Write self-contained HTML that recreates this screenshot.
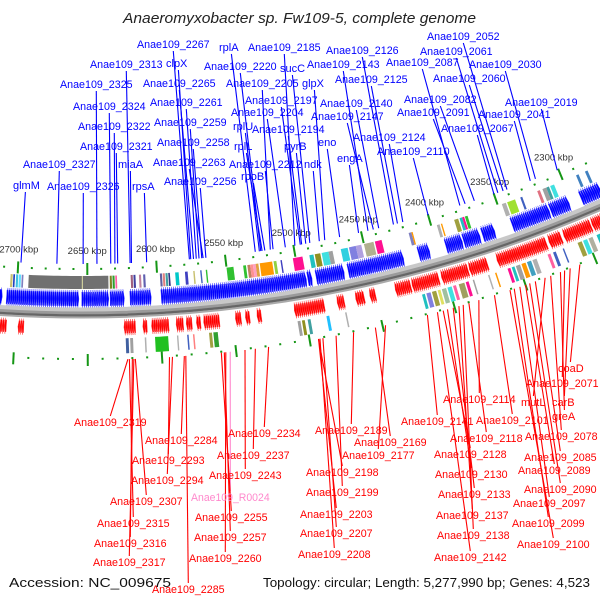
<!DOCTYPE html>
<html><head><meta charset="utf-8">
<style>
html,body{margin:0;padding:0;background:#fff;}
svg{display:block;font-family:"Liberation Sans",sans-serif;}
</style></head>
<body>
<svg id="map" width="600" height="600" viewBox="0 0 600 600" xmlns="http://www.w3.org/2000/svg">
<rect width="600" height="600" fill="#fff"/>
<text x="123" y="23" font-size="15" font-style="italic" fill="#222" textLength="353" lengthAdjust="spacingAndGlyphs">Anaeromyxobacter sp. Fw109-5, complete genome</text>
<g id="cog"></g><g id="genes"></g><g id="backbone"></g><g id="ticks"></g><g id="lines"></g><g id="labels"></g>
<text x="9" y="587" font-size="13" fill="#111" textLength="162" lengthAdjust="spacingAndGlyphs">Accession: NC_009675</text>
<text x="263" y="587" font-size="13" fill="#111" textLength="327" lengthAdjust="spacingAndGlyphs">Topology: circular; Length: 5,277,990 bp; Genes: 4,523</text>
</svg>
<script>
// ---- data ----
const fwdBlocks=[[2712,2710],[2707,2656],[2654,2635],[2634,2624],[2620,2605],[2598,2495],[2494,2491],[2488,2468],[2465,2425],[2414,2406],[2394,2382],[2381,2369],[2367,2358],[2345,2317],[2316,2302],[2293,2287],[2287,2278]];
const revBlocks=[[2712,2706],[2698,2694],[2625,2617],[2612,2609],[2606,2594],[2589,2584],[2582,2578],[2575,2572],[2570,2559],[2548,2544],[2541,2538],[2533,2530],[2507,2486],[2477,2472],[2464,2458],[2454,2450],[2436,2425],[2424,2405],[2403,2384],[2383,2370],[2363,2327],[2325,2316],[2314,2294],[2293,2278]];
const fwdCog=[[2705,1.5,"#c8c070"],[2703,1.2,"#2040c0"],[2701,1.5,"#40c0e0"],[2699,1.5,"#60e0ff"],[2697,1.2,"#8080c0"],
[2692,57,"#707070"],[2654,0.8,"#d8d8a0"],[2634,1.5,"#808020"],[2632,1.5,"#30a030"],[2630,1.2,"#ff60a0"],
[2619,1.5,"#a06080"],[2617,1.5,"#4040a0"],[2613,1.5,"#c080a0"],[2610,1.5,"#6060b0"],
[2598,1.5,"#6060a0"],[2596,1.5,"#e08080"],[2594,1.5,"#40a0a0"],[2592,1.2,"#303080"],
[2587,2.5,"#00c8c8"],[2580,2,"#4040c0"],[2574,1,"#c8c070"],[2569,1,"#4060c0"],[2565,1,"#30c030"],
[2550,5,"#30c030"],[2538,2,"#30c030"],[2535,2,"#c08060"],[2533,2,"#ff9090"],[2531,2,"#ffa0c0"],[2529,2,"#e0a040"],[2526,9,"#ff9900"],[2516,2,"#90d040"],[2511,1,"#4040c0"],[2502,7,"#ff1090"],
[2490,3,"#20c0c0"],[2486,4,"#909020"],[2481,5,"#40e0e0"],[2476,3,"#a0a0a0"],[2467,5,"#30d0e0"],[2461,5,"#8080e0"],[2456,4,"#b0a0e0"],[2450,7,"#b0b090"],[2442,5,"#ff1090"],
[2417,2,"#8080c0"],[2415,1,"#ff9900"],[2396,2,"#b0b0b0"],[2393,1,"#ff9900"],[2383,3,"#a0a040"],[2379,2,"#20c0c0"],[2377,1.5,"#ff1090"],[2375,2,"#30c030"],
[2347,3,"#b0b0b0"],[2343,6,"#a0e030"],[2333,1.5,"#4060c0"],[2320,2,"#e07080"],[2316,3,"#a0a0a0"],[2313,2,"#40a0a0"],[2310,3,"#40e0e0"],[2290,2,"#4080c0"],[2283,2,"#4080c0"]];
const revCog=[[2624,2,"#4060a0"],[2621,2,"#a0a0a0"],[2611,1,"#b0b0b0"],[2604,9,"#20c020"],[2589,1,"#b0b0b0"],[2582,1,"#4060c0"],[2578,1,"#ff8080"],[2567,2,"#a0a040"],[2564,3,"#30a030"],
[2506,2,"#a0a0a0"],[2503,2,"#909020"],[2499,2,"#40a0a0"],[2486,2,"#20c0ff"],[2473,1,"#b0b0b0"],
[2419,2,"#20c0c0"],[2416,3,"#8080e0"],[2412,3,"#a0a040"],[2408,2,"#e0e060"],[2405,3,"#a0c0a0"],[2401,3,"#40e0e0"],[2397,2,"#ff60a0"],[2393,4,"#a0a060"],[2388,2,"#ff1090"],[2383,1,"#a0a0a0"],[2372,1,"#b0b0b0"],[2367,1,"#ff9900"],
[2358,2,"#ff1090"],[2355,2,"#20c0c0"],[2352,3,"#a0a0a0"],[2348,3,"#ff9900"],[2344,3,"#40a0c0"],[2340,3,"#b0b0b0"],[2329,2,"#ff60a0"],[2325,2,"#4060c0"],[2318,1,"#4060c0"],
[2307,3,"#a0a040"],[2303,3,"#40e0e0"],[2299,3,"#b0b0a0"],[2293,3,"#20c0c0"],[2289,3,"#a0a060"],[2285,2,"#ff60a0"],[2282,2,"#8060c0"]];
const topNames=["glmM","Anae109_2327","Anae109_2326","Anae109_2325","Anae109_2324","Anae109_2322","Anae109_2321","Anae109_2313","miaA","rpsA","clpX","Anae109_2267","Anae109_2265","Anae109_2261","Anae109_2259","Anae109_2258","Anae109_2263","Anae109_2256","rplA","Anae109_2220","Anae109_2205","rplU","rplL","Anae109_2212","rpoB","Anae109_2185","Anae109_2197","Anae109_2204","Anae109_2194","sucC","glpX","pyrB","ndk","eno","engA","Anae109_2143","Anae109_2126","Anae109_2125","Anae109_2140","Anae109_2147","Anae109_2124","Anae109_2110","Anae109_2087","Anae109_2061","Anae109_2052","Anae109_2030","Anae109_2060","Anae109_2082","Anae109_2091","Anae109_2041","Anae109_2067","Anae109_2019"];
const topGeneKbp=[2698,2672,2653,2643,2633,2630,2628,2619,2618,2607,2575,2576,2573,2571,2569,2567,2566,2564,2528,2524,2517,2525,2523,2515,2521,2499,2495,2506,2494,2488,2477,2491,2481,2466,2452,2445,2426,2423,2437,2441,2419,2400,2376,2347,2340,2318,2343,2365,2372,2322,2350,2301];
const botNames=["Anae109_2319","Anae109_2284","Anae109_2293","Anae109_2294","Anae109_2307","Anae109_2315","Anae109_2316","Anae109_2317","Anae109_2285","Anae109_2234","Anae109_2237","Anae109_2243","Anae109_R0024","Anae109_2255","Anae109_2257","Anae109_2260","Anae109_2189","Anae109_2169","Anae109_2177","Anae109_2198","Anae109_2199","Anae109_2203","Anae109_2207","Anae109_2208","Anae109_2114","Anae109_2141","Anae109_2101","Anae109_2118","Anae109_2128","Anae109_2130","Anae109_2133","Anae109_2137","Anae109_2138","Anae109_2142","coaD","Anae109_2071","mutL","carB","greA","Anae109_2078","Anae109_2085","Anae109_2089","Anae109_2090","Anae109_2097","Anae109_2099","Anae109_2100"];
const botGeneKbp=[2623,2585,2595,2593,2618,2622,2620,2619,2584,2528,2537,2544,2554,2560,2558,2557,2470,2455,2448,2494,2482,2494,2491,2493,2383,2419,2372,2390,2408,2405,2401,2397,2394,2412,2311,2322,2336,2318,2325,2332,2343,2350,2347,2354,2358,2361];
const tickStart=2280, tickEnd=2710, tickStep=10, majorStep=50;
// ---- layout (label anchor positions: text-left x, baseline y) ----
const topPos=[[13,189],[23,168],[47,190],[60,88],[73,110],[78,130],[80,150],[90,68],[118,168],[132,190],[166,67],[137,48],[143,87],[150,106],[154,126],[157,146],[153,166],[164,185],[219,51],[204,70],[226,87],[233,130],[234,150],[229,168],[241,180],[248,51],[245,104],[231,116],[252,133],[280,72],[302,87],[284,150],[304,168],[318,146],[337,162],[307,68],[326,54],[335,83],[320,107],[311,120],[353,141],[377,155],[386,66],[420,55],[427,40],[469,68],[433,82],[404,103],[397,116],[478,118],[441,132],[505,106]];
const botPos=[[74,426],[145,444],[132,464],[131,484],[110,505],[97,527],[94,547],[93,566],[152,593],[228,437],[217,459],[209,479],[191,501],[195,521],[194,541],[189,562],[315,434],[354,446],[342,459],[306,476],[306,496],[300,518],[300,537],[298,558],[443,403],[401,425],[476,424],[450,442],[434,458],[435,478],[438,498],[436,519],[437,539],[434,561],[558,372],[526,387],[521,406],[552,406],[552,420],[525,440],[524,461],[518,474],[524,493],[513,507],[512,527],[517,548]];

const NS="http://www.w3.org/2000/svg";
const cx=81, cy=-992;
function phi(k){return -0.05+(2700-k)*0.0011;}
function P(r,k){const a=phi(k);return [cx+r*Math.sin(a), cy+r*Math.cos(a)];}
function mk(tag,attrs,parent){const e=document.createElementNS(NS,tag);for(const k in attrs)e.setAttribute(k,attrs[k]);parent.appendChild(e);return e;}
function pts(a){return a.map(p=>p[0].toFixed(1)+","+p[1].toFixed(1)).join(" ");}
function sector(k1,k2,r1,r2){const a=[],n=Math.max(2,Math.ceil(Math.abs(k1-k2)/3));for(let i=0;i<=n;i++)a.push(P(r1,k1+(k2-k1)*i/n));for(let i=n;i>=0;i--)a.push(P(r2,k1+(k2-k1)*i/n));return pts(a);}
function lw(s){return s.length>=12? s.length*6.05 : null;}

// COG tiles
const gC=document.getElementById('cog');
fwdCog.forEach(t=>{const e=mk('polygon',{points:sector(t[0],t[0]-t[1],1268,1281),fill:t[2]},gC);

});
revCog.forEach(t=>{const e=mk('polygon',{points:sector(t[0],t[0]-t[1],1331,1346),fill:t[2]},gC);

});

// genes
const gG=document.getElementById('genes');
function drawBlock(b,r1,r2,fwd,col){
  const len=b[0]-b[1], n=Math.max(1,Math.round(len/1.4)), step=len/n, rm=(r1+r2)/2;
  for(let i=0;i<n;i++){
    const s=b[0]-i*step, e=s-step, h=Math.min(0.8,step*0.6);
    let poly;
    if(fwd) poly=[P(r1,s),P(r1,e+h),P(r1-2,e+h),P(rm,e),P(r2+2,e+h),P(r2,e+h),P(r2,s)];
    else poly=[P(r1,e),P(r1,s-h),P(r1-2,s-h),P(rm,s),P(r2+2,s-h),P(r2,s-h),P(r2,e)];
    const el=mk('polygon',{points:pts(poly),fill:col,stroke:fwd?"#3838ff":"#ff3838","stroke-width":"0.4"},gG);
    
    
  }
}
fwdBlocks.forEach(b=>drawBlock(b,1284,1298,true,"#0000ff"));
revBlocks.forEach(b=>drawBlock(b,1314,1326,false,"#ff0000"));

// backbone
const gB=document.getElementById('backbone');
function arcPath(r,k1,k2){const a=P(r,k1),b=P(r,k2);return `M${a[0]},${a[1]} A${r},${r} 0 0 0 ${b[0]},${b[1]}`;}
[[1302,5,"#c8c8c8"],[1305,3,"#9a9a9a"],[1307.5,2.5,"#666"],[1309.5,2,"#aaa"]].forEach(s=>{
  const e=mk('path',{d:arcPath(s[0],2730,2250),stroke:s[2],"stroke-width":s[1],fill:"none"},gB);
  
  
});

// ticks
const gT=document.getElementById('ticks');
for(let k=tickStart;k<=tickEnd;k+=tickStep){
  const major=k%majorStep===0;
  [[1261,major?[1255,1267]:[1260,1262]],[1351,major?[1346,1358]:[1350,1352]]].forEach(t=>{
    const a=P(t[1][0],k),b=P(t[1][1],k);
    const e=mk('line',{x1:a[0],y1:a[1],x2:b[0],y2:b[1],stroke:"#159615","stroke-width":major?2:2},gT);
    
    
  });
  if(major){const c=P(1243,k);
    const t=mk('text',{x:c[0],y:c[1]+3,"font-size":9.5,fill:"#333","text-anchor":"middle"},gT);
    t.textContent=k+" kbp";
    
    }
}

// labels + leader lines
const gL=document.getElementById('lines'), gX=document.getElementById('labels');
topNames.forEach((nm,i)=>{
  const [x,y]=topPos[i], w=lw(nm)||nm.length*6.2, g=P(1256,topGeneKbp[i]);
  const l=mk('line',{x1:x+w/2,y1:y+3,x2:g[0],y2:g[1],stroke:"#0000ff","stroke-width":1.1},gL);
  
  
  const at={x:x,y:y,"font-size":11,fill:"#0000ff"}; if(lw(nm)){at.textLength=w;at.lengthAdjust="spacingAndGlyphs";}
  const t=mk('text',at,gX); t.textContent=nm;
  
  
});
botNames.forEach((nm,i)=>{
  const [x,y]=botPos[i], w=lw(nm)||nm.length*6.2, g=P(1352,botGeneKbp[i]);
  const col=nm.indexOf('R0')>=0?"#ff88cc":"#ff0000";
  const l=mk('line',{x1:g[0],y1:g[1],x2:x+w/2,y2:y-10,stroke:col,"stroke-width":1.1},gL);
  
  
  const at={x:x,y:y,"font-size":11,fill:col}; if(lw(nm)){at.textLength=w;at.lengthAdjust="spacingAndGlyphs";}
  const t=mk('text',at,gX); t.textContent=nm;
  
  
});
</script>
</body></html>
